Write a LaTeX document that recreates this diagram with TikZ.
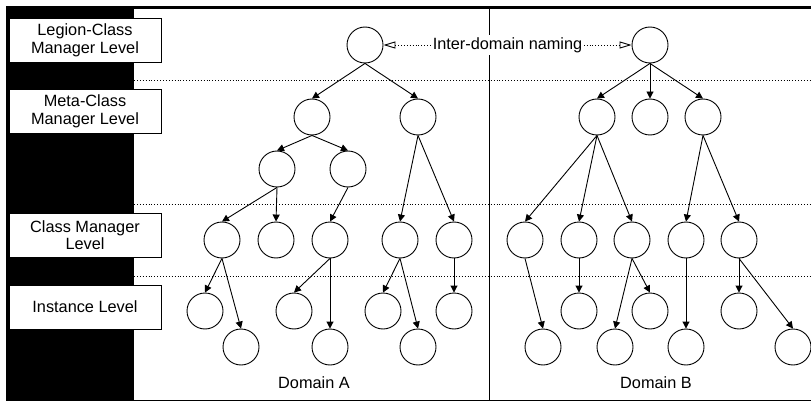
\documentclass[tikz,border=0pt]{standalone}
\usepackage{fontspec}
\setmainfont{Liberation Sans}
\usetikzlibrary{arrows.meta}

\begin{document}
\begin{tikzpicture}[x=1pt, y=-1pt,
	nstyle/.style={circle, draw=black, line width=0.9pt, fill=white,
	minimum size=36pt, inner sep=0pt},
	lstyle/.style={rectangle, draw=black, line width=0.9pt, fill=white,
	minimum width=152pt, minimum height=44pt, align=center, inner sep=0pt},
	estyle/.style={line width=0.9pt, -{Triangle[length=7pt, width=7pt]}},
	sepline/.style={line width=0.9pt, dotted},
	font=\fontsize{16.3}{17.6}\selectfont
	]
	\useasboundingbox (0,0) rectangle (811,401);
	% frame
	\fill[black] (6,6) rectangle (812,401);
	\fill[white] (134,9.5) rectangle (811,399.5);
	\draw[sepline] (134,80) -- (811,80);
	\draw[sepline] (134,204) -- (811,204);
	\draw[sepline] (134,276) -- (811,276);
	\draw[line width=0.9pt] (489,9.5) -- (489,399.5);
	% levels
	\draw(85,40)node[lstyle] (legion) {Legion-Class\\Manager Level};
	\draw(85,111.5)node[lstyle] (meta) {Meta-Class\\Manager Level};
	\draw(85,235)node[lstyle] (class) {Class Manager\\Level};
	\draw(85,307)node[lstyle] (inst) {Instance Level};
	% domain A
	\draw(365,45)node[nstyle] (a0) {};
	\draw(312,117)node[nstyle] (a1) {};
	\draw(418,117)node[nstyle] (a2) {};
	\draw(277,169)node[nstyle] (a11) {};
	\draw(348,169)node[nstyle] (a12) {};
	\draw(222,240)node[nstyle] (c1) {};
	\draw(276,240)node[nstyle] (c2) {};
	\draw(330,240)node[nstyle] (c3) {};
	\draw(400,240)node[nstyle] (c4) {};
	\draw(454,240)node[nstyle] (c5) {};
	\draw(205,311)node[nstyle] (i1) {};
	\draw(241,347)node[nstyle] (i2) {};
	\draw(294,311)node[nstyle] (i3) {};
	\draw(330,347)node[nstyle] (i4) {};
	\draw(383,311)node[nstyle] (i5) {};
	\draw(418,347)node[nstyle] (i6) {};
	\draw(454,311)node[nstyle] (i7) {};
	\draw(314,382.5)node (doma) {Domain A};
	% domain B
	\draw(650,45)node[nstyle] (b0) {};
	\draw(597,117)node[nstyle] (b1) {};
	\draw(650,117)node[nstyle] (b2) {};
	\draw(703,117)node[nstyle] (b3) {};
	\draw(525,240)node[nstyle] (d1) {};
	\draw(579,240)node[nstyle] (d2) {};
	\draw(632,240)node[nstyle] (d3) {};
	\draw(686,240)node[nstyle] (d4) {};
	\draw(739,240)node[nstyle] (d5) {};
	\draw(543,347)node[nstyle] (j1) {};
	\draw(579,311)node[nstyle] (j2) {};
	\draw(615,347)node[nstyle] (j3) {};
	\draw(650,311)node[nstyle] (j4) {};
	\draw(686,347)node[nstyle] (j5) {};
	\draw(739,311)node[nstyle] (j6) {};
	\draw(793,347)node[nstyle] (j7) {};
	\draw(656,382.5)node (domb) {Domain B};
	% edges A
	\draw[estyle] (a0.south) to (a1.north);
	\draw[estyle] (a0.south) to (a2.north);
	\draw[estyle] (a1.south) to (a11.north);
	\draw[estyle] (a1.south) to (a12.north);
	\draw[estyle] (a11.south) to (c1.north);
	\draw[estyle] (a11.south) to (c2.north);
	\draw[estyle] (a12.south) to (c3.north);
	\draw[estyle] (a2.south) to (c4.north);
	\draw[estyle] (a2.south) to (c5.north);
	\draw[estyle] (c1.south) to (i1.north);
	\draw[estyle] (c1.south) to (i2.north);
	\draw[estyle] (c3.south) to (i3.north);
	\draw[estyle] (c3.south) to (i4.north);
	\draw[estyle] (c4.south) to (i5.north);
	\draw[estyle] (c4.south) to (i6.north);
	\draw[estyle] (c5.south) to (i7.north);
	% edges B
	\draw[estyle] (b0.south) to (b1.north);
	\draw[estyle] (b0.south) to (b2.north);
	\draw[estyle] (b0.south) to (b3.north);
	\draw[estyle] (b1.south) to (d1.north);
	\draw[estyle] (b1.south) to (d2.north);
	\draw[estyle] (b1.south) to (d3.north);
	\draw[estyle] (b3.south) to (d4.north);
	\draw[estyle] (b3.south) to (d5.north);
	\draw[estyle] (d1.south) to (j1.north);
	\draw[estyle] (d2.south) to (j2.north);
	\draw[estyle] (d3.south) to (j3.north);
	\draw[estyle] (d3.south) to (j4.north);
	\draw[estyle] (d4.south) to (j5.north);
	\draw[estyle] (d5.south) to (j6.north);
	\draw[estyle] (d5.south) to (j7.north);
	% naming
	\draw[line width=0.9pt, dotted,
	{Triangle[open, length=12pt, width=7pt]}-{Triangle[open, length=12pt, width=7pt]}]
	(a0.east) to
	node[fill=white, inner sep=2pt] {Inter-domain naming}
	(b0.west);
\end{tikzpicture}
\end{document}
